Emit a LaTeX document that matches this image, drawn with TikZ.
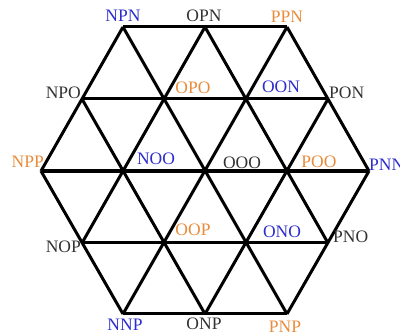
\documentclass[tikz,border=0pt]{standalone}
\usepackage{fontspec}
\setmainfont{Liberation Serif}
\definecolor{lblue}{RGB}{45,45,205}
\definecolor{lorange}{RGB}{232,140,60}
\definecolor{lgray}{RGB}{50,50,50}
\begin{document}
\begin{tikzpicture}[x=1pt,y=-1pt,
  grid/.style={line width=3pt,black,line join=miter},
  midline/.style={line width=4.5pt,black},
  lbl/.style={inner sep=0pt,font=\fontsize{17.5}{18}\selectfont},
  bl/.style={lbl,text=lblue},
  orl/.style={lbl,text=lorange},
  kl/.style={lbl,text=lgray}]
\useasboundingbox (0,0) rectangle (400,336);
% lattice vertices
\coordinate (NPN) at (123,27);
\coordinate (OPN) at (205,27);
\coordinate (PPN) at (287,27);
\coordinate (NPO) at (82,99);
\coordinate (OPO) at (164,99);
\coordinate (OON) at (246,99);
\coordinate (PON) at (328,99);
\coordinate (NPP) at (41,171);
\coordinate (NOO) at (123,171);
\coordinate (OOO) at (205,171);
\coordinate (POO) at (287,171);
\coordinate (PNN) at (369,171);
\coordinate (NOP) at (82,243);
\coordinate (OOP) at (164,243);
\coordinate (ONO) at (246,243);
\coordinate (PNO) at (328,243);
\coordinate (NNP) at (123,314);
\coordinate (ONP) at (205,314);
\coordinate (PNP) at (287,314);
% horizontal lines
\draw[grid] (NPN) -- (PPN);
\draw[grid] (NPO) -- (PON);
\draw[midline] (NPP) -- (PNN);
\draw[grid] (NOP) -- (PNO);
\draw[grid] (NNP) -- (PNP);
% down-right lines
\draw[grid] (NPN) -- (PNP);
\draw[grid] (NPO) -- (ONP);
\draw[grid] (NPP) -- (NNP);
\draw[grid] (OPN) -- (PNO);
\draw[grid] (PPN) -- (PNN);
% down-left lines
\draw[grid] (PPN) -- (NNP);
\draw[grid] (OPN) -- (NOP);
\draw[grid] (NPN) -- (NPP);
\draw[grid] (PON) -- (ONP);
\draw[grid] (PNN) -- (PNP);
% labels
\node[bl] (lNPN) at (123,16) {NPN};
\node[kl] (lOPN) at (204,16) {OPN};
\node[orl] (lPPN) at (287,17) {PPN};
\node[kl,anchor=east] (lNPO) at (81,93) {NPO};
\node[orl] (lOPO) at (193,88) {OPO};
\node[bl] (lOON) at (281,87) {OON};
\node[kl,anchor=west] (lPON) at (329,93) {PON};
\node[orl,anchor=east] (lNPP) at (44,162) {NPP};
\node[bl] (lNOO) at (156,159) {NOO};
\node[kl] (lOOO) at (242,163) {OOO};
\node[orl] (lPOO) at (319,162) {POO};
\node[bl,anchor=west] (lPNN) at (369,165) {PNN};
\node[kl,anchor=east] (lNOP) at (81,247) {NOP};
\node[orl] (lOOP) at (193,230) {OOP};
\node[bl] (lONO) at (282,232) {ONO};
\node[kl,anchor=west] (lPNO) at (333,237) {PNO};
\node[bl] (lNNP) at (125,325) {NNP};
\node[kl] (lONP) at (204,324) {ONP};
\node[orl] (lPNP) at (285,327) {PNP};
\end{tikzpicture}
\end{document}
